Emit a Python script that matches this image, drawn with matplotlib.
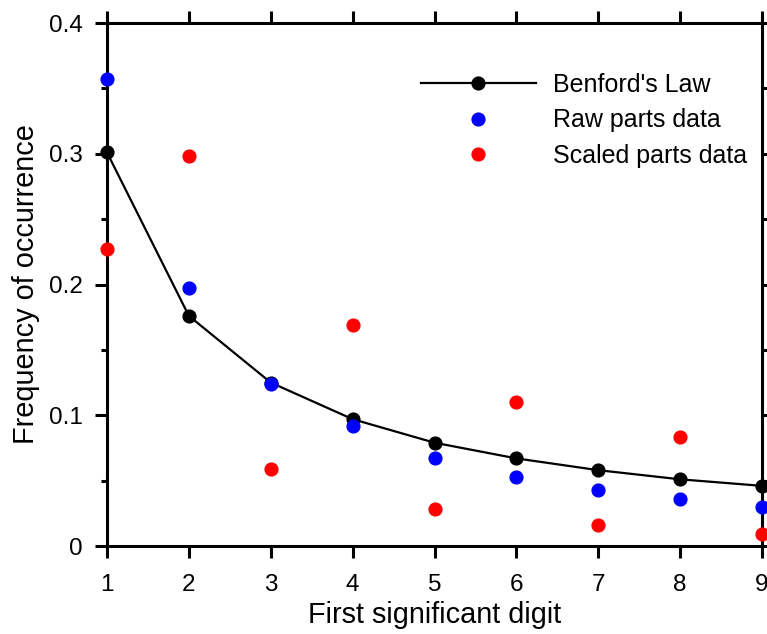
import matplotlib.pyplot as plt
from matplotlib.ticker import MultipleLocator

plt.rcParams['font.family'] = ['Liberation Sans', 'DejaVu Sans']

digits = [1, 2, 3, 4, 5, 6, 7, 8, 9]
benford = [0.301, 0.176, 0.125, 0.097, 0.079, 0.067, 0.058, 0.051, 0.046]
raw_parts = [0.357, 0.197, 0.124, 0.092, 0.067, 0.053, 0.043, 0.036, 0.030]
scaled_parts = [0.227, 0.298, 0.059, 0.169, 0.028, 0.110, 0.016, 0.083, 0.009]
yticks = [0, 0.1, 0.2, 0.3, 0.4]
ytick_labels = ['0', '0.1', '0.2', '0.3', '0.4']

fig = plt.figure(figsize=(7.67, 6.34), dpi=100)
ax = fig.add_axes([0.1395, 0.1388, 0.854, 0.8249])

ax.plot(digits, benford, color='black', lw=1.6, marker='o', ms=9.2,
        clip_on=False, zorder=3, label="Benford's Law")
ax.plot(digits, raw_parts, ls='none', marker='o', ms=9.2, color='#0000ff',
        clip_on=False, zorder=4, label='Raw parts data')
ax.plot(digits, scaled_parts, ls='none', marker='o', ms=9.2, color='#ff0000',
        clip_on=False, zorder=4, label='Scaled parts data')

ax.set_xlim(1, 9)
ax.set_ylim(0, 0.4)
ax.set_xticks(digits)
ax.set_yticks(yticks, ytick_labels)
ax.yaxis.set_minor_locator(MultipleLocator(0.05))

for s in ax.spines.values():
    s.set_linewidth(2.2)
ax.tick_params(which='major', direction='out', length=8.5, width=2.2,
               labelsize=17.5, top=True, right=True, pad=9)
ax.tick_params(which='minor', direction='out', length=4.5, width=2.2,
               right=True)
ax.tick_params(axis='x', pad=12)

ax.set_xlabel('First significant digit', fontsize=20.8, labelpad=3)
ax.set_ylabel('Frequency of occurrence', fontsize=20.8, labelpad=6)

ax.legend(loc='upper left', bbox_to_anchor=(0.46, 0.928), frameon=False,
          fontsize=18, handlelength=4.6, handletextpad=0.7,
          labelspacing=0.45, borderpad=0)

fig.savefig('out.png', dpi=100)
